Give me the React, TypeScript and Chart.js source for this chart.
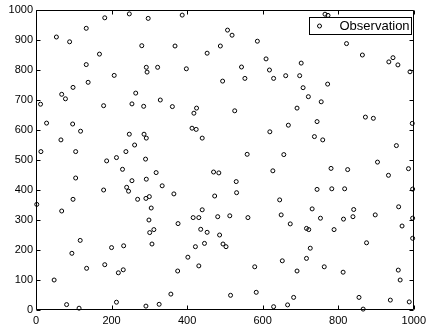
import { useEffect, useRef } from 'react';
import { Chart, registerables } from 'chart.js';

Chart.register(...registerables);

const seriesLabel = 'Observation';
const xTicks = [0, 200, 400, 600, 800, 1000];
const yTicks = [0, 100, 200, 300, 400, 500, 600, 700, 800, 900, 1000];

const obsX = [
  182, 247, 297, 133, 54, 89, 280, 168, 133, 292, 322, 294, 207, 138, 98, 264, 68, 78, 329, 12,
  179, 254, 285, 387, 507, 519, 368, 488, 586, 453, 609, 398, 544, 618, 661, 494, 553, 629, 361, 425,
  765, 773, 822, 864, 702, 934, 945, 958, 990, 698, 772, 707, 721, 755, 691, 28, 97, 118, 66, 247,
  286, 292, 261, 13, 105, 238, 187, 213, 290, 229, 318, 105, 254, 292, 334, 179, 240, 245, 98, 269,
  291, 300, 2, 305, 68, 299, 301, 312, 307, 117, 95, 200, 232, 134, 182, 218, 231, 48, 81, 114,
  213, 291, 326, 418, 526, 413, 424, 440, 619, 668, 559, 656, 470, 484, 627, 530, 365, 473, 531, 645,
  440, 744, 872, 893, 996, 737, 759, 954, 904, 781, 825, 986, 933, 744, 783, 817, 997, 731, 841, 960,
  416, 431, 481, 513, 561, 649, 673, 376, 436, 453, 486, 422, 446, 495, 503, 402, 431, 375, 579, 652,
  357, 515, 583, 629, 666, 753, 814, 839, 898, 997, 716, 722, 789, 969, 997, 875, 726, 716, 691, 763,
  813, 959, 964, 682, 855, 938, 866, 988,
];

const obsY = [
  974, 987, 972, 939, 910, 894, 881, 853, 818, 809, 809, 793, 782, 759, 742, 723, 719, 704, 700, 686,
  681, 687, 679, 983, 933, 916, 880, 880, 896, 856, 837, 804, 810, 800, 781, 763, 772, 772, 678, 673,
  986, 982, 888, 850, 823, 827, 841, 817, 794, 781, 753, 741, 711, 694, 673, 623, 620, 596, 567, 586,
  586, 573, 550, 528, 528, 528, 497, 508, 503, 469, 458, 440, 431, 436, 414, 400, 409, 396, 369, 369,
  372, 378, 352, 340, 330, 300, 258, 268, 220, 232, 189, 208, 214, 139, 151, 124, 134, 100, 18, 6,
  26, 13, 19, 656, 664, 606, 602, 573, 594, 616, 519, 518, 460, 457, 464, 428, 387, 380, 391, 367,
  334, 628, 643, 639, 622, 578, 567, 548, 493, 472, 468, 471, 449, 402, 404, 404, 403, 337, 335, 344,
  308, 308, 311, 314, 308, 317, 287, 288, 269, 259, 250, 211, 222, 220, 211, 176, 147, 130, 144, 164,
  53, 49, 59, 11, 17, 306, 303, 311, 317, 306, 272, 268, 268, 280, 239, 224, 206, 172, 130, 144,
  126, 133, 100, 42, 42, 33, 3, 27,
];

const FONT = '"Liberation Sans", Arial, Helvetica, sans-serif';

const framePlugin = {
  id: 'matlabFrame',
  afterDraw(chart: any) {
    const { ctx, chartArea } = chart;
    const xs = chart.scales.x;
    const ys = chart.scales.y;
    const L = Math.round(chartArea.left) + 0.5;
    const R = Math.round(chartArea.right) - 0.5;
    const T = Math.round(chartArea.top) + 0.5;
    const B = Math.round(chartArea.bottom) - 0.5;
    const tl = 4;
    ctx.save();
    ctx.strokeStyle = '#000';
    ctx.lineWidth = 1;
    ctx.beginPath();
    ctx.rect(L, T, R - L, B - T);
    ctx.stroke();
    ctx.beginPath();
    xTicks.forEach((v) => {
      const px = Math.round(xs.getPixelForValue(v)) + 0.5;
      ctx.moveTo(px, B);
      ctx.lineTo(px, B - tl);
      ctx.moveTo(px, T);
      ctx.lineTo(px, T + tl);
    });
    yTicks.forEach((v) => {
      const py = Math.round(ys.getPixelForValue(v)) + 0.5;
      ctx.moveTo(L, py);
      ctx.lineTo(L + tl, py);
      ctx.moveTo(R, py);
      ctx.lineTo(R - tl, py);
    });
    ctx.stroke();

    // legend box
    const lw = 102;
    const lh = 17;
    const lx = Math.round(chartArea.right) - 3 - lw + 0.5;
    const ly = Math.round(chartArea.top) + 7 + 0.5;
    ctx.fillStyle = '#fff';
    ctx.fillRect(lx, ly, lw, lh);
    ctx.strokeRect(lx, ly, lw, lh);
    ctx.beginPath();
    ctx.arc(lx + 10, ly + lh / 2, 2, 0, Math.PI * 2);
    ctx.stroke();
    ctx.fillStyle = '#000';
    ctx.font = '13px ' + FONT;
    ctx.textBaseline = 'middle';
    ctx.textAlign = 'left';
    ctx.fillText(chart.data.datasets[0].label, lx + 30, ly + lh / 2 + 0.5);
    ctx.restore();
  },
};

export default function App() {
  const ref = useRef<HTMLCanvasElement>(null);
  useEffect(() => {
    document.body.style.margin = '0';
    const chart = new Chart(ref.current!, {
      type: 'scatter',
      data: {
        datasets: [
          {
            label: seriesLabel,
            data: obsX.map((x, i) => ({ x, y: obsY[i] })),
            pointRadius: 2,
            pointBorderWidth: 1,
            borderColor: '#000',
            backgroundColor: 'rgba(0,0,0,0)',
            pointStyle: 'circle',
            clip: false as any,
          },
        ],
      },
      options: {
        animation: false,
        responsive: false,
        devicePixelRatio: 1,
        layout: { padding: { top: 10, right: 13, bottom: 0, left: 0 } },
        plugins: { legend: { display: false }, tooltip: { enabled: false } },
        scales: {
          x: {
            type: 'linear',
            min: 0,
            max: 1000,
            afterBuildTicks: (s: any) => {
              s.ticks = xTicks.map((v) => ({ value: v }));
            },
            afterFit: (s: any) => {
              s.height = 16;
            },
            grid: { display: false, drawTicks: false },
            border: { display: false },
            ticks: {
              padding: 4,
              color: '#000',
              font: { family: FONT, size: 11 },
              maxRotation: 0,
              autoSkip: false,
              callback: (v: any) => String(v),
            },
          },
          y: {
            type: 'linear',
            min: 0,
            max: 1000,
            afterBuildTicks: (s: any) => {
              s.ticks = yTicks.map((v) => ({ value: v }));
            },
            afterFit: (s: any) => {
              s.width = 36;
            },
            grid: { display: false, drawTicks: false },
            border: { display: false },
            ticks: {
              padding: 3,
              color: '#000',
              font: { family: FONT, size: 11 },
              autoSkip: false,
              callback: (v: any) => String(v),
            },
          },
        },
      },
      plugins: [framePlugin],
    });
    return () => chart.destroy();
  }, []);
  return <canvas ref={ref} width={430} height={326} style={{ display: 'block' }} />;
}
